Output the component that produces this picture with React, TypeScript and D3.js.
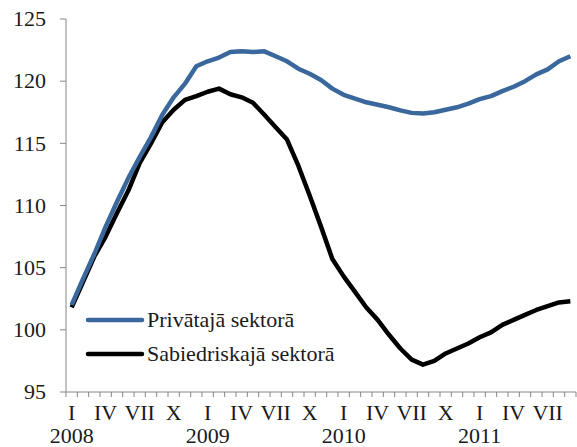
import React from "react";
import * as d3 from "d3";

const months: string[] = [];
const years = [2008, 2009, 2010, 2011];
const romans = ["I", "II", "III", "IV", "V", "VI", "VII", "VIII", "IX", "X", "XI", "XII"];
years.forEach((y) => romans.forEach((r, m) => months.push(`${y}-${m + 1}`)));
const categories = months.slice(0, 45);

const privateSector = [
  102.0, 104.1, 106.1, 108.3, 110.3, 112.2, 113.9, 115.5, 117.3, 118.7, 119.8, 121.2,
  121.6, 121.9, 122.35, 122.4, 122.35, 122.4, 122.0, 121.6, 121.0, 120.6, 120.1, 119.4,
  118.9, 118.6, 118.3, 118.1, 117.9, 117.65, 117.45, 117.4, 117.5, 117.7, 117.9, 118.2,
  118.55, 118.8, 119.2, 119.55, 120.0, 120.55, 120.95, 121.6, 122.0,
];
const publicSector = [
  101.8, 103.85, 105.9, 107.5, 109.4, 111.2, 113.4, 115.0, 116.7, 117.7, 118.5, 118.8,
  119.15, 119.4, 118.95, 118.7, 118.26, 117.3, 116.3, 115.3, 113.2, 110.8, 108.3, 105.7,
  104.3, 103.05, 101.8, 100.8, 99.6, 98.5, 97.6, 97.2, 97.5, 98.1, 98.5, 98.9,
  99.4, 99.8, 100.4, 100.8, 101.2, 101.6, 101.9, 102.2, 102.3,
];
const yTicks = [95, 100, 105, 110, 115, 120, 125];
const seriesNames = ["Privātajā sektorā", "Sabiedriskajā sektorā"];

const W = 577;
const H = 447;
const left = 66;
const right = 576;
const top = 19;
const bottom = 392;
const font = "'Liberation Serif', 'DejaVu Serif', 'Times New Roman', serif";
const axisColor = "#868686";
const blue = "#3A679C";
const textColor = "#1a1a1a";

export default function App() {
  const x = d3.scaleBand<string>().domain(categories).range([left, right]);
  const y = d3.scaleLinear().domain([95, 125]).range([bottom, top]);
  const cx = (c: string) => (x(c) as number) + x.bandwidth() / 2;
  const line = d3
    .line<number>()
    .x((_, i) => cx(categories[i]))
    .y((d) => y(d));

  const boundaries = categories.map((c) => x(c) as number).concat([right]);
  const ts: React.CSSProperties = { fontFamily: font, fontSize: 22 };

  return (
    <svg width={W} height={H} style={{ position: "absolute", left: 0, top: 0 }}>
      <rect width={W} height={H} fill="#fff" />
      {/* y axis */}
      <line x1={left} x2={left} y1={top} y2={bottom} stroke={axisColor} strokeWidth={1} />
      {yTicks.map((t) => (
        <g key={t}>
          <line x1={left - 6} x2={left} y1={y(t)} y2={y(t)} stroke={axisColor} />
          <text x={46} y={y(t)} dy="0.33em" textAnchor="end" style={ts} fill={textColor}>
            {t}
          </text>
        </g>
      ))}
      {/* x axis */}
      <line x1={left} x2={right} y1={bottom} y2={bottom} stroke={axisColor} />
      {boundaries.map((b, i) => (
        <line key={i} x1={b} x2={b} y1={bottom} y2={bottom + 5} stroke={axisColor} />
      ))}
      {categories.map((c, i) => {
        const m = i % 12;
        if (m % 3 !== 0) return null;
        return (
          <g key={c}>
            <text x={cx(c)} y={420} textAnchor="middle" style={ts} fill={textColor}>
              {romans[m]}
            </text>
            {m === 0 && (
              <text x={cx(c)} y={443} textAnchor="middle" style={ts} fill={textColor}>
                {c.split("-")[0]}
              </text>
            )}
          </g>
        );
      })}
      {/* lines */}
      <path d={line(publicSector) || ""} fill="none" stroke="#000" strokeWidth={4.5} strokeLinejoin="round" />
      <path d={line(privateSector) || ""} fill="none" stroke={blue} strokeWidth={4.5} strokeLinejoin="round" />
      {/* legend */}
      <line x1={88} x2={142} y1={320} y2={320} stroke={blue} strokeWidth={4.5} strokeLinecap="round" />
      <text x={147} y={327} style={ts} fill={textColor}>{seriesNames[0]}</text>
      <line x1={88} x2={142} y1={354} y2={354} stroke="#000" strokeWidth={4.5} strokeLinecap="round" />
      <text x={147} y={361} style={ts} fill={textColor}>{seriesNames[1]}</text>
    </svg>
  );
}
